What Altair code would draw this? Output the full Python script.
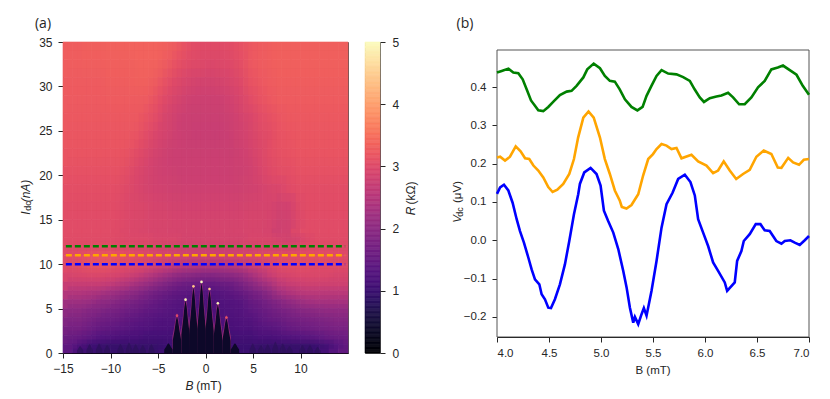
import altair as alt
import pandas as pd

# ---------- panel (a): resistance map (kOhm)
col_edges = list(range(-15, 16))
row_edges = [35, 33, 31, 29, 27, 25, 23, 21, 19, 17, 15, 13, 12, 11, 10, 9, 8, 7, 6, 5, 4, 3, 2, 1, 0]
R_rows = [
 [3.29,3.29,3.32,3.32,3.34,3.34,3.34,3.35,3.35,3.35,3.32,3.26,3.14,3.05,3.02,3.02,3.02,3.05,3.12,3.21,3.27,3.29,3.32,3.32,3.32,3.32,3.32,3.32,3.32,3.32],
 [3.29,3.29,3.3,3.3,3.32,3.32,3.32,3.34,3.35,3.34,3.26,3.14,3.05,2.99,2.97,2.95,2.97,3.0,3.08,3.21,3.27,3.29,3.32,3.32,3.32,3.32,3.32,3.32,3.32,3.32],
 [3.27,3.27,3.27,3.27,3.29,3.29,3.29,3.32,3.32,3.26,3.12,3.0,2.92,2.87,2.85,2.85,2.87,2.92,3.0,3.14,3.21,3.27,3.29,3.29,3.29,3.29,3.29,3.29,3.29,3.29],
 [3.25,3.25,3.25,3.25,3.27,3.27,3.27,3.27,3.25,3.14,3.0,2.9,2.82,2.78,2.77,2.77,2.78,2.84,2.92,3.04,3.14,3.21,3.27,3.27,3.27,3.27,3.27,3.27,3.27,3.27],
 [3.22,3.22,3.22,3.22,3.22,3.22,3.22,3.22,3.14,3.04,2.9,2.82,2.76,2.74,2.74,2.74,2.74,2.78,2.86,2.94,3.04,3.1,3.18,3.22,3.22,3.22,3.22,3.22,3.22,3.22],
 [3.19,3.19,3.19,3.19,3.19,3.19,3.19,3.15,3.04,2.94,2.86,2.78,2.74,2.72,2.72,2.72,2.72,2.76,2.82,2.9,2.99,3.05,3.14,3.16,3.19,3.19,3.19,3.19,3.19,3.19],
 [3.17,3.17,3.17,3.17,3.17,3.17,3.14,3.05,2.95,2.86,2.8,2.76,2.74,2.74,2.74,2.74,2.74,2.74,2.79,2.86,2.95,3.05,3.11,3.14,3.17,3.17,3.17,3.17,3.17,3.17],
 [3.12,3.12,3.12,3.12,3.12,3.12,3.06,2.96,2.88,2.82,2.79,2.77,2.76,2.76,2.76,2.76,2.76,2.76,2.77,2.82,2.91,3.0,3.06,3.08,3.12,3.12,3.12,3.12,3.12,3.12],
 [3.08,3.08,3.08,3.08,3.08,3.06,3.0,2.93,2.87,2.84,2.82,2.8,2.79,2.79,2.79,2.79,2.79,2.79,2.8,2.82,2.86,2.91,2.93,3.01,3.06,3.06,3.06,3.06,3.06,3.06],
 [3.05,3.05,3.05,3.05,3.05,3.03,2.98,2.95,2.92,2.89,2.87,2.85,2.84,2.84,2.84,2.84,2.84,2.84,2.85,2.87,2.89,2.89,2.82,2.84,2.99,3.05,3.05,3.05,3.05,3.05],
 [3.04,3.04,3.04,3.04,3.04,3.02,2.98,2.95,2.92,2.9,2.9,2.88,2.87,2.87,2.87,2.87,2.87,2.87,2.88,2.9,2.9,2.88,2.8,2.82,2.97,3.04,3.04,3.04,3.04,3.04],
 [3.03,3.03,3.03,3.03,3.03,3.0,2.97,2.97,2.97,2.92,2.92,2.92,2.87,2.87,2.87,2.87,2.87,2.87,2.87,2.92,2.92,2.92,2.87,2.85,2.89,2.97,3.03,3.03,3.03,3.03],
 [3.0,3.0,3.02,3.05,3.05,3.0,3.0,2.95,2.95,2.9,2.85,2.85,2.8,2.8,2.8,2.8,2.8,2.8,2.85,2.85,2.9,2.9,2.9,2.9,2.95,3.0,3.0,3.0,3.0,3.0],
 [3.0,3.05,3.1,3.15,3.15,3.1,3.05,3.0,2.95,2.9,2.85,2.8,2.75,2.7,2.7,2.7,2.7,2.75,2.8,2.85,2.9,2.95,3.0,3.0,3.0,3.05,3.05,3.05,3.0,3.0],
 [3.0,3.05,3.1,3.12,3.12,3.05,3.0,2.95,2.9,2.8,2.7,2.6,2.5,2.45,2.4,2.4,2.4,2.45,2.55,2.7,2.8,2.9,3.0,3.05,3.05,3.05,3.0,3.0,3.0,3.0],
 [2.9,2.92,2.95,2.95,2.92,2.88,2.8,2.7,2.55,2.4,2.25,2.1,2.0,1.95,1.9,1.9,1.95,2.0,2.1,2.3,2.5,2.7,2.85,2.9,2.95,2.95,2.95,2.95,2.9,2.9],
 [2.7,2.7,2.7,2.7,2.65,2.55,2.45,2.3,2.15,2.0,1.85,1.7,1.6,1.55,1.5,1.5,1.55,1.6,1.75,1.95,2.15,2.35,2.6,2.7,2.75,2.8,2.8,2.8,2.8,2.8],
 [2.45,2.45,2.4,2.35,2.25,2.15,2.05,1.95,1.8,1.65,1.55,1.45,1.4,1.35,1.3,1.3,1.35,1.4,1.5,1.65,1.8,2.0,2.25,2.4,2.5,2.55,2.55,2.55,2.55,2.55],
 [2.2,2.2,2.15,2.05,2.0,1.9,1.8,1.7,1.6,1.5,1.4,1.35,1.3,1.25,1.2,1.2,1.25,1.3,1.35,1.5,1.6,1.75,1.9,2.05,2.15,2.25,2.3,2.3,2.3,2.3],
 [2.0,2.0,1.9,1.85,1.75,1.7,1.6,1.55,1.45,1.4,1.35,1.3,1.25,1.2,1.2,1.2,1.2,1.25,1.3,1.4,1.5,1.6,1.7,1.8,1.9,1.95,2.0,2.05,2.05,2.05],
 [1.85,1.85,1.75,1.65,1.6,1.55,1.45,1.4,1.35,1.3,1.25,1.25,1.2,1.2,1.2,1.2,1.2,1.2,1.25,1.3,1.4,1.5,1.55,1.65,1.7,1.75,1.8,1.85,1.9,1.9],
 [1.7,1.7,1.6,1.5,1.45,1.4,1.35,1.3,1.25,1.2,1.2,1.15,1.15,1.15,1.15,1.15,1.15,1.15,1.2,1.2,1.3,1.35,1.4,1.5,1.55,1.6,1.65,1.7,1.75,1.75],
 [1.55,1.5,1.4,1.3,1.25,1.2,1.15,1.15,1.1,1.1,1.1,1.1,1.05,1.05,1.05,1.05,1.05,1.05,1.1,1.1,1.15,1.15,1.2,1.25,1.3,1.35,1.4,1.5,1.55,1.6],
 [1.4,1.2,1.05,1.0,0.95,0.95,0.95,0.95,0.95,0.95,1.0,1.0,1.0,1.0,1.0,1.0,1.0,1.0,1.0,1.0,0.95,0.95,0.95,0.95,0.95,0.95,1.0,1.1,1.3,1.45],
]
# superconducting lobes: centre (mT), height (nA)
lobe_b = [-3.9, -3.0, -2.1, -1.27, -0.42, 0.42, 1.3, 2.2, 3.1]
lobe_h = [1.1, 4.1, 5.9, 7.4, 7.9, 7.1, 5.5, 3.9, 1.1]
# weak dark bumps along the bottom edge
bump_b = [-13.2,-12.2,-11.2,-10.35,-8.95,-8.05,-7.35,-6.6,-5.7,4.96,5.85,6.55,7.35,8.13,8.84,10.2,11.0,11.8]
bump_h = [0.8,1.0,1.1,0.9,1.0,1.2,1.0,0.9,1.0,1.1,0.9,1.0,1.3,1.1,0.8,0.9,0.9,0.7]
# bright tips above lobes
tip_b = [-3.0,-2.1,-1.27,-0.42,0.42,1.3,2.2]
tip_i = [4.2,6.0,7.5,8.0,7.2,5.6,4.0]
tip_r = [3.0,4.9,4.4,5.0,4.4,4.9,3.2]
cut_i = [10, 11, 12]
cut_c = ["blue", "orange", "green"]

# ---------- panel (b)
green_b = [4.0,4.045,4.11,4.157,4.205,4.247,4.285,4.327,4.365,4.397,4.445,4.493,4.54,4.605,4.67,4.717,4.765,4.83,4.868,4.93,4.99,5.037,5.085,5.133,5.18,5.23,5.293,5.35,5.40,5.438,5.485,5.534,5.582,5.646,5.726,5.79,5.854,5.90,5.95,5.99,6.046,6.11,6.158,6.222,6.27,6.328,6.382,6.446,6.51,6.574,6.638,6.70,6.75,6.815,6.88,6.94,7.0]
green_v = [.438,.442,.448,.438,.436,.420,.394,.365,.351,.339,.337,.348,.361,.379,.388,.390,.403,.425,.446,.461,.449,.429,.416,.414,.394,.368,.348,.339,.348,.377,.403,.429,.444,.435,.433,.426,.416,.394,.373,.361,.371,.375,.378,.385,.373,.355,.355,.373,.399,.416,.446,.451,.456,.444,.432,.403,.38]
orange_b = [4.0,4.03,4.077,4.125,4.18,4.227,4.27,4.31,4.35,4.397,4.445,4.493,4.535,4.58,4.637,4.695,4.74,4.78,4.83,4.88,4.93,4.99,5.037,5.085,5.133,5.18,5.2,5.245,5.293,5.358,5.405,5.454,5.50,5.534,5.582,5.63,5.678,5.726,5.774,5.87,5.934,6.014,6.078,6.126,6.18,6.238,6.30,6.366,6.43,6.494,6.565,6.638,6.70,6.735,6.80,6.847,6.904,6.95,7.0]
orange_v = [.216,.218,.208,.218,.245,.232,.214,.212,.195,.182,.164,.139,.126,.132,.147,.173,.212,.268,.320,.336,.320,.268,.212,.173,.130,.104,.087,.083,.092,.12,.169,.212,.225,.238,.251,.247,.238,.241,.214,.223,.206,.195,.175,.182,.206,.182,.160,.173,.184,.218,.234,.225,.190,.189,.215,.203,.197,.210,.212]
blue_b = [4.0,4.03,4.067,4.109,4.15,4.189,4.221,4.259,4.301,4.333,4.365,4.407,4.429,4.461,4.493,4.519,4.557,4.605,4.653,4.695,4.74,4.781,4.797,4.839,4.9,4.957,4.996,5.028,5.069,5.118,5.166,5.214,5.246,5.278,5.31,5.326,5.358,5.39,5.412,5.438,5.486,5.534,5.582,5.63,5.688,5.742,5.806,5.86,5.902,5.934,5.982,6.03,6.078,6.126,6.19,6.213,6.286,6.309,6.35,6.373,6.43,6.488,6.533,6.574,6.622,6.686,6.735,6.767,6.821,6.863,6.911,6.959,7.0]
blue_v = [.121,.138,.145,.13,.098,.055,.024,-.006,-.045,-.076,-.102,-.115,-.141,-.154,-.176,-.177,-.154,-.115,-.063,-.002,.068,.12,.147,.177,.189,.173,.143,.077,.05,.02,-.023,-.08,-.123,-.176,-.215,-.2,-.219,-.193,-.177,-.197,-.132,-.054,.033,.094,.124,.16,.171,.152,.117,.055,.02,-.015,-.058,-.08,-.11,-.132,-.11,-.054,-.028,-.002,.016,.042,.042,.026,.024,-.002,-.009,-.002,0,-.006,-.012,0,.011]

FONT = "Liberation Sans"
TXT = "#262626"
mag = alt.Scale(scheme="magma", domain=[0, 5], clamp=True)

cells = []
for r, row in enumerate(R_rows):
    h = (row_edges[r] - row_edges[r + 1]) / 2
    for c, val in enumerate(row):
        cells.append(dict(b0=col_edges[c], b1=col_edges[c + 1], i0=row_edges[r + 1], i1=row_edges[r], R=val,
                          sb0=col_edges[c] + 0.5, sb1=col_edges[c + 1] + 0.5, si0=row_edges[r + 1] + h, si1=row_edges[r] + h))
cells = pd.DataFrame(cells)

xa = alt.Scale(domain=[-15, 15], nice=False, zero=False)
ya = alt.Scale(domain=[0, 35], nice=False, zero=False)
ax_x = dict(labelFont=FONT, labelFontSize=12, labelColor=TXT, tickColor=TXT, tickSize=5, grid=False,
            domainColor="black", labelPadding=5)
ax_y = dict(labelFont=FONT, labelFontSize=12, labelColor=TXT, tickColor=TXT, tickSize=5, grid=False,
            labelPadding=6)

heat = alt.Chart(cells).mark_rect(strokeWidth=0.6).encode(
    x=alt.X("b0:Q", scale=xa, title=None,
            axis=alt.Axis(values=[-15, -10, -5, 0, 5, 10], labelFlush=False, **ax_x)),
    x2="b1:Q",
    y=alt.Y("i0:Q", scale=ya, title=None, axis=alt.Axis(values=list(range(0, 36, 5)), domain=False, **ax_y)),
    y2="i1:Q",
    color=alt.Color("R:Q", scale=mag, legend=None),
    stroke=alt.Stroke("R:Q", scale=mag, legend=None),
)
# same cells again, half a cell along, at half strength: softens the steps of the coarse grid
soft = alt.Chart(cells).mark_rect(opacity=0.5, clip=True).encode(
    x=alt.X("sb0:Q", scale=xa), x2="sb1:Q", y=alt.Y("si0:Q", scale=ya), y2="si1:Q",
    color=alt.Color("R:Q", scale=mag, legend=None),
)

def shape(bs, hs, gain, pad):
    out = []
    for k, (b, h) in enumerate(zip(bs, hs)):
        for db, f in [(-0.45, 0.0), (-0.44, 0.35), (-0.26, 0.62), (-0.12, 0.88), (0, 1.0), (0.12, 0.88), (0.26, 0.62), (0.44, 0.35), (0.45, 0.0)]:
            out.append(dict(k=k, b=b + db * gain, i=h * f + (pad if f else 0), base=0))
    return pd.DataFrame(out)

def lobe_layer(df, fill, op=1.0):
    return alt.Chart(df).mark_area(fill=fill, opacity=op).encode(
        x=alt.X("b:Q", scale=xa), y=alt.Y("i:Q", scale=ya), y2="base:Q", detail="k:N")

halo = lobe_layer(shape(lobe_b[1:-1], lobe_h[1:-1], 1.1, 0.4), "#c43c75", 0.55)
lobes = lobe_layer(shape(lobe_b, lobe_h, 1.0, 0.0), "#0d0829")
bumps = lobe_layer(shape(bump_b, bump_h, 0.75, 0.0), "#2c1158", 0.7)

tips = alt.Chart(pd.DataFrame(dict(b=tip_b, i=tip_i, R=tip_r))).mark_point(
    shape="circle", filled=True, size=7, opacity=1).encode(
    x=alt.X("b:Q", scale=xa), y=alt.Y("i:Q", scale=ya), color=alt.Color("R:Q", scale=mag, legend=None))

cut = alt.Chart(pd.DataFrame(dict(i=cut_i, c=cut_c, b0=[-14.7] * 3, b1=[14.7] * 3))).mark_rule(
    strokeDash=[6, 3], strokeWidth=2.5).encode(
    x=alt.X("b0:Q", scale=xa), x2="b1:Q", y=alt.Y("i:Q", scale=ya), color=alt.Color("c:N", scale=None))

def label(txt, x, y, size=12, style="normal", angle=0, font=FONT, align="center"):
    return alt.Chart(pd.DataFrame(dict(t=[txt]))).mark_text(
        font=font, fontSize=size, fontStyle=style, angle=angle, color=TXT, align=align, baseline="middle").encode(
        x=alt.value(x), y=alt.value(y), text="t:N")

panel_a = alt.layer(
    heat, soft, bumps, halo, lobes, tips, cut,
    label("(a)", -20, -18, 14, font="Open Sans"),
    label("B", 126.5, 344, 12, "italic"),
    label("(mT)", 146, 344, 12),
    label("I", -37, 171, 12, "italic", 270),
    label("dc", -35, 164, 9, "normal", 270),
    label("(nA)", -37, 149, 12, "italic", 270),
).properties(width=285, height=311)

bar_vals = [v / 50 for v in range(0, 250)]
bar = pd.DataFrame(dict(v0=bar_vals, v1=[v + 0.02 for v in bar_vals]))
panel_c = alt.layer(
    alt.Chart(bar).mark_rect(strokeWidth=0.6).encode(
        y=alt.Y("v0:Q", scale=alt.Scale(domain=[0, 5], nice=False), title=None,
                axis=alt.Axis(orient="right", values=[0, 1, 2, 3, 4, 5], domain=False,
                              **{**ax_y, "labelPadding": 7})),
        y2="v1:Q",
        color=alt.Color("v0:Q", scale=mag, legend=None),
        stroke=alt.Stroke("v0:Q", scale=mag, legend=None),
    ),
    label("R", 46, 169, 12, "italic", 270),
    label("(kΩ)", 46, 151, 12, "normal", 270),
).properties(width=15, height=311)

xb = alt.Scale(domain=[4, 7], nice=False, zero=False)
yb = alt.Scale(domain=[-0.2525, 0.4966], nice=False, zero=False, range=[295, 8])

frame = alt.Chart(pd.DataFrame(dict(t=["frame"]))).mark_rect(fill="white", stroke="#555555", strokeWidth=1).encode(
    x=alt.value(0), x2=alt.value(312), y=alt.value(8), y2=alt.value(295))

def curve(bs, vs, colour):
    return alt.Chart(pd.DataFrame(dict(B=bs, V=vs))).mark_line(stroke=colour, strokeWidth=2.6).encode(
        x=alt.X("B:Q", scale=xb, title=None,
                axis=alt.Axis(values=[4, 4.5, 5, 5.5, 6, 6.5, 7], format=".1f", offset=-16,
                              **{**ax_x, "labelFontSize": 11.5})),
        y=alt.Y("V:Q", scale=yb, title=None,
                axis=alt.Axis(values=[-0.2, -0.1, 0, 0.1, 0.2, 0.3, 0.4], domain=False, format=".1f",
                              **{**ax_y, "labelFontSize": 11.5})),
    )

panel_b = alt.layer(
    frame,
    curve(blue_b, blue_v, "blue"),
    curve(orange_b, orange_v, "orange"),
    curve(green_b, green_v, "green"),
    label("(b)", -32, -18, 14, font="Open Sans"),
    label("B (mT)", 156, 329, 11.5),
    label("V", -39, 177, 11.5, "italic", 270),
    label("dc", -37, 170, 9, "normal", 270),
    label("(μV)", -39, 150, 11.5, "normal", 270),
).properties(width=312, height=311, view=alt.ViewBackground(stroke=None))

chart = alt.hconcat(
    alt.hconcat(panel_a, panel_c, spacing=15),
    panel_b, spacing=34,
).properties(padding={"left": 11, "top": 8, "right": 0, "bottom": 0}, background="white").configure_view(
    stroke="#555555", strokeWidth=1)

chart.save("out.html", embed_options={"renderer": "svg", "actions": False})
